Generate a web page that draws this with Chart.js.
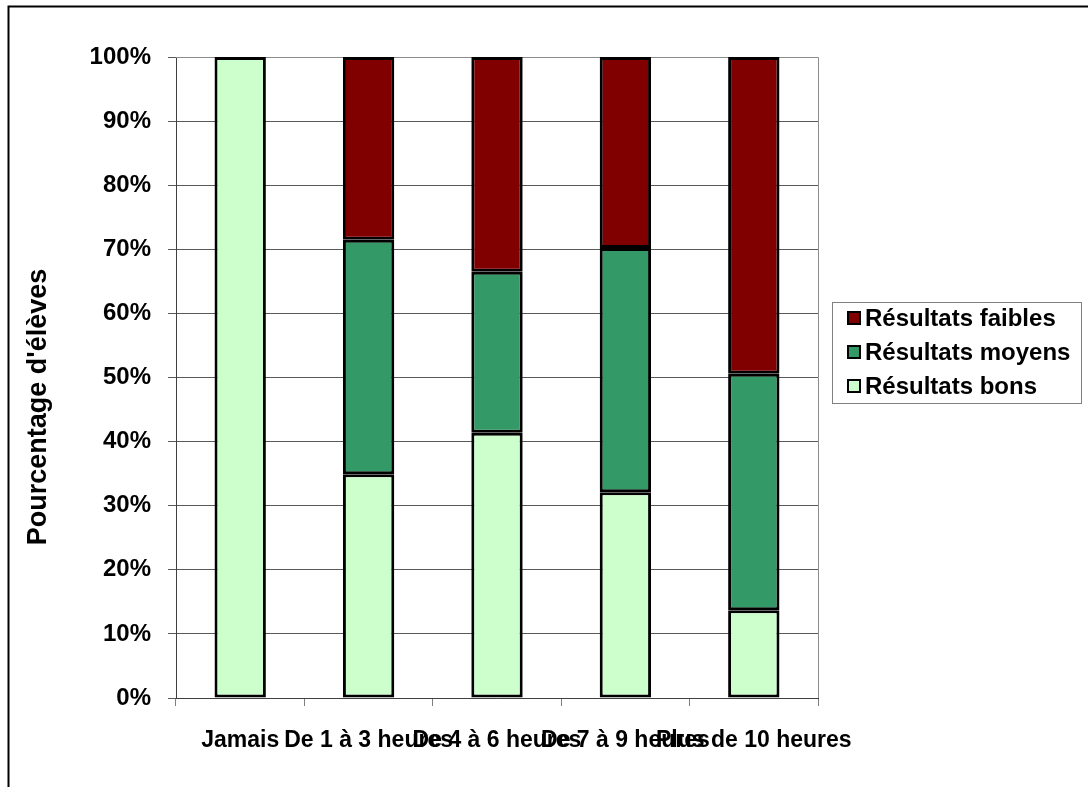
<!DOCTYPE html>
<html lang="fr">
<head>
  <meta charset="UTF-8" />
  <title>Pourcentage d'élèves par résultats</title>
  <script src="https://cdn.jsdelivr.net/npm/chart.js"></script>
  <style>
    * { margin: 0; padding: 0; box-sizing: border-box; }
    html, body { background: #ffffff; overflow: hidden; }
    .wrap { width: 1088px; height: 787px; position: relative; }
  </style>
</head>
<body>
  <div class="wrap"><canvas id="chart"></canvas></div>

  <script>
    const categories = ['Jamais', 'De 1 à 3 heures', 'De 4 à 6 heures', 'De 7 à 9 heures', 'Plus de 10 heures'];
    const bons    = [100, 34.9, 41.4, 32.1, 13.7];
    const moyens  = [0, 36.6, 25.1, 38.1, 36.9];
    const faibles = [0, 28.5, 33.5, 29.8, 49.4];
    const yTicks = [0, 10, 20, 30, 40, 50, 60, 70, 80, 90, 100];

    const FONT = "'Liberation Sans', Arial, sans-serif";

    // outer frame + plot border
    const framePlugin = {
      id: 'frame',
      beforeDatasetsDraw(chart) {
        const { ctx, chartArea: a } = chart;
        ctx.save();
        ctx.strokeStyle = '#8c8c8c';
        ctx.lineWidth = 1;
        ctx.beginPath();
        ctx.moveTo(a.left, a.top + 0.5);
        ctx.lineTo(a.right + 0.5, a.top + 0.5);
        ctx.lineTo(a.right + 0.5, a.bottom);
        ctx.stroke();
        ctx.restore();
      },
      afterDraw(chart) {
        const ctx = chart.ctx;
        ctx.save();
        ctx.strokeStyle = '#000';
        ctx.lineWidth = 2;
        ctx.strokeRect(8.5, 6.5, 2000, 2000);
        ctx.restore();
      }
    };

    // y title drawn a bit lower than the axis centre, like the original
    const yTitlePlugin = {
      id: 'yTitle',
      afterDraw(chart) {
        const ctx = chart.ctx;
        ctx.save();
        ctx.translate(39, 407);
        ctx.rotate(-Math.PI / 2);
        ctx.font = 'bold 27px ' + FONT;
        ctx.fillStyle = '#000';
        ctx.textAlign = 'center';
        ctx.textBaseline = 'middle';
        ctx.fillText("Pourcentage d'élèves", 0, 0);
        ctx.restore();
      }
    };

    // boxed legend, top series first
    const legendPlugin = {
      id: 'boxLegend',
      afterDraw(chart) {
        const ctx = chart.ctx;
        const sets = chart.data.datasets.slice().reverse();
        ctx.save();
        ctx.strokeStyle = '#808080';
        ctx.lineWidth = 1;
        ctx.strokeRect(832.5, 302.5, 249, 101);
        ctx.font = 'bold 24px ' + FONT;
        ctx.textBaseline = 'middle';
        sets.forEach((ds, i) => {
          const y = 318 + i * 34;
          ctx.fillStyle = ds.backgroundColor;
          ctx.fillRect(848, y - 6, 12, 12);
          ctx.strokeStyle = '#000';
          ctx.lineWidth = 2;
          ctx.strokeRect(848, y - 6, 12, 12);
          ctx.fillStyle = '#000';
          ctx.fillText(ds.label, 865, y + 1);
        });
        ctx.restore();
      }
    };

    const barStyle = { borderColor: '#000', borderWidth: 3, borderSkipped: false, categoryPercentage: 1, barPercentage: 0.4 };

    new Chart(document.getElementById('chart'), {
      type: 'bar',
      data: {
        labels: categories,
        datasets: [
          { label: 'Résultats bons', data: bons, backgroundColor: '#CCFFCC', ...barStyle },
          { label: 'Résultats moyens', data: moyens, backgroundColor: '#339966', ...barStyle },
          { label: 'Résultats faibles', data: faibles, backgroundColor: '#800000', ...barStyle }
        ]
      },
      options: {
        responsive: true,
        maintainAspectRatio: false,
        animation: false,
        layout: { padding: { left: 8, top: 57, right: 270, bottom: 0 } },
        plugins: { legend: { display: false }, tooltip: { enabled: false }, title: { display: false } },
        scales: {
          x: {
            stacked: true,
            grid: { drawOnChartArea: false, offset: true, tickLength: 8, color: '#808080' },
            border: { color: '#404040', width: 1 },
            ticks: { autoSkip: false, maxRotation: 0, minRotation: 0, padding: 21, color: '#000', font: { family: FONT, size: 23, weight: 'bold' } },
            afterFit(scale) { scale.height = 89; }
          },
          y: {
            stacked: true,
            min: 0,
            max: 100,
            afterBuildTicks(scale) { scale.ticks = yTicks.map(v => ({ value: v })); },
            grid: { color: '#5a5a5a', tickLength: 8 },
            border: { color: '#404040', width: 1 },
            ticks: { padding: 17, color: '#000', font: { family: FONT, size: 24, weight: 'bold' }, callback: v => v + '%' },
            afterFit(scale) { scale.width = 168; }
          }
        }
      },
      plugins: [framePlugin, yTitlePlugin, legendPlugin]
    });
  </script>
</body>
</html>
